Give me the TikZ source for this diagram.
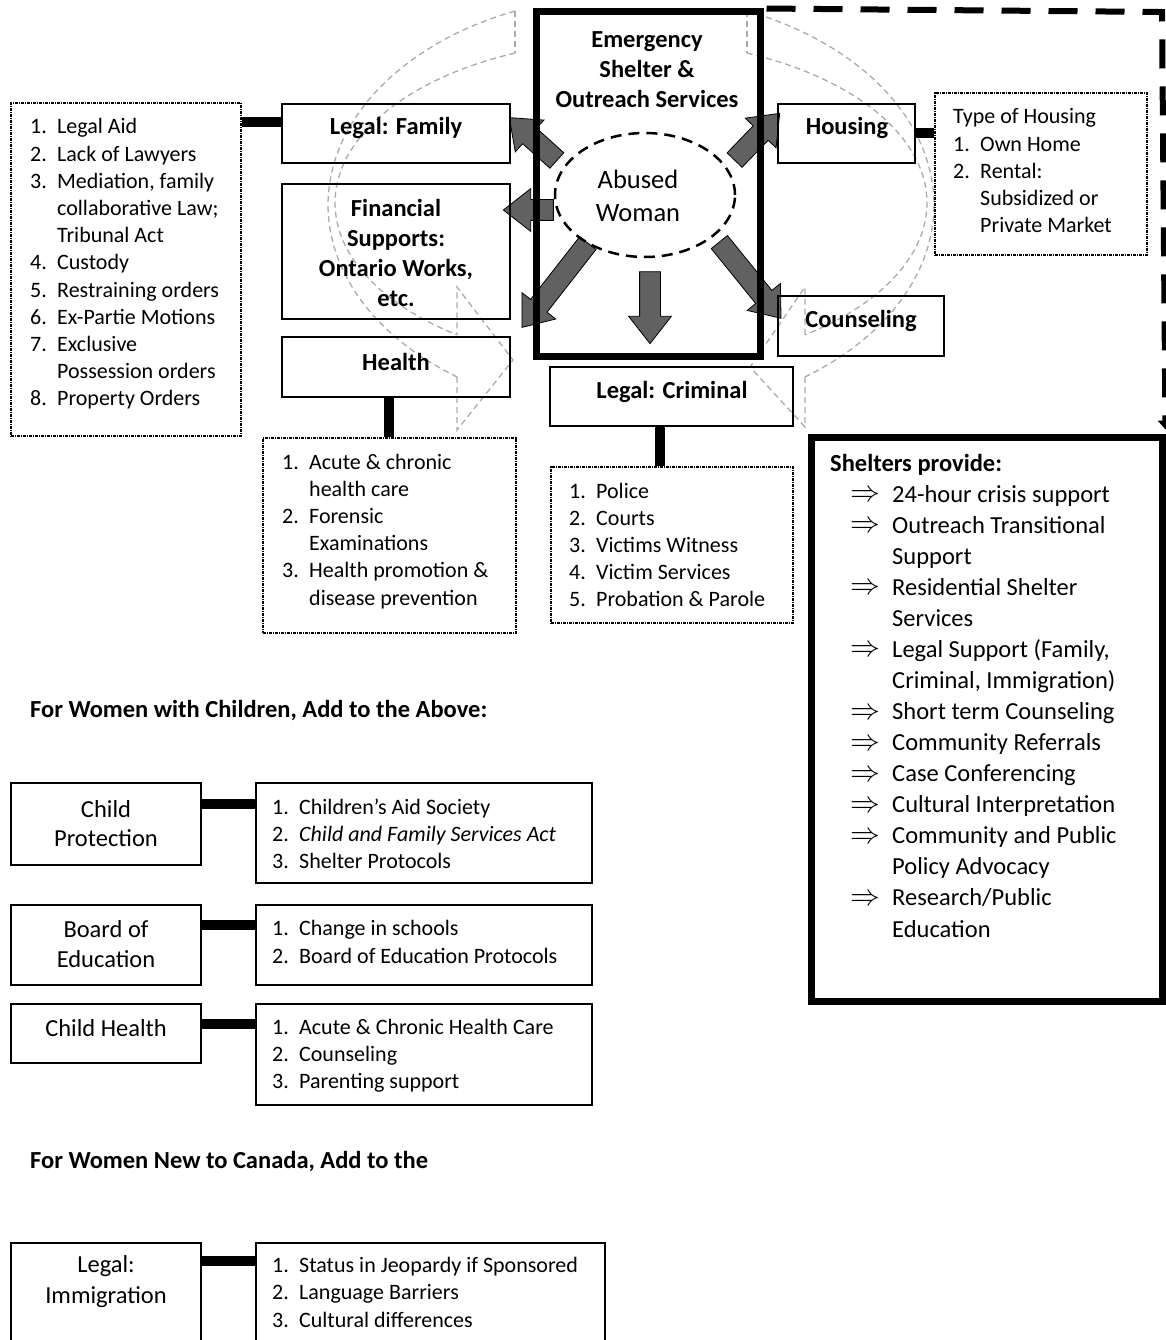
\documentclass[tikz,border=0pt]{standalone}
\usepackage{graphicx}
\usepackage{fontspec}
\setmainfont{Carlito}
\usetikzlibrary{shapes.geometric,shapes.arrows,arrows.meta,fit}
\newcommand\fbig{\fontsize{24.5}{30}\selectfont}
\newcommand\fsm{\fontsize{22}{27.2}\selectfont}
\newcommand\nm[1]{\makebox[27pt][l]{#1}}
\newcommand\ind{\hspace*{27pt}}
\newcommand\sh{\hspace*{20pt}\makebox[42pt][l]{\raisebox{0.5pt}{\scalebox{1.2}{$\Rightarrow$}}}}
\newcommand\shind{\hspace*{62pt}}
\begin{document}
\begin{tikzpicture}[x=1pt,y=-1pt,
 box/.style={draw,line width=1.5pt,inner sep=0pt},
 heavy/.style={draw,line width=7pt,inner sep=0pt},
 dotbox/.style={draw,line width=1.1pt,inner sep=0pt,dash pattern=on 2.6pt off 1.3pt on 0.8pt off 1.3pt},
 bar/.style={line width=10pt},
 hd/.style={font=\fbig\bfseries,align=center,inner sep=0pt},
 nl/.style={font=\fbig,align=center,inner sep=0pt},
 lst/.style={anchor=base west,inner sep=0pt,font=\fsm},
 ghost/.style={draw=black!33,line width=1.3pt,dash pattern=on 6pt off 4pt},
 garrow/.style={single arrow,draw=black,line width=0.8pt,fill=black!62,inner sep=10pt,
   single arrow head extend=11pt,single arrow tip angle=76,single arrow head indent=0pt}
]
\useasboundingbox (0,0) rectangle (1166,1340);
\fill[white] (0,0) rectangle (1166,1340);
\clip (0,0) rectangle (1166,1340);

% ghost circular arrows (faint background)
\draw[ghost] plot[domain=247.5:125,samples=60] ({631+303*cos(\x)},{205+210*sin(\x)});
\draw[ghost] plot[domain=247:126,samples=60] ({631+296*cos(\x)},{203+163*sin(\x)});
\draw[ghost] plot[domain=-67.5:55,samples=60] ({631+303*cos(\x)},{205+210*sin(\x)});
\draw[ghost] plot[domain=-67:54,samples=60] ({631+296*cos(\x)},{203+163*sin(\x)});
\draw[ghost] (515,11) -- (515,53);
\draw[ghost] (747,11) -- (747,53);
\draw[ghost] (457,377) -- (457,430) -- (513,360) -- (457,287) -- (457,335);
\draw[ghost] (805,377) -- (805,427) -- (750,367) -- (805,287) -- (805,335);

% gray block arrows from the woman
\node[garrow,minimum height=64pt,rotate=138] (a1) at (538,143.5) {};
\node[garrow,minimum height=50pt,rotate=180] (a2) at (535,210) {};
\node[garrow,minimum height=107pt,rotate=-128] (a3) at (559,280) {};
\node[garrow,minimum height=72pt,rotate=-90] (a4) at (650,301) {};
\node[garrow,minimum height=98pt,rotate=-51] (a5) at (746,275) {};
\node[garrow,minimum height=65pt,rotate=46] (a6) at (752.5,141.5) {};

% central box and woman
\node[heavy,fit={(536,12) (760,356)}] (es) {};
\node[ellipse,draw,line width=2.5pt,dash pattern=on 11pt off 7pt,minimum width=180pt,minimum height=124pt,inner sep=0pt] (aw) at (645,195) {};
\node[hd] (est) at (647,70) {Emergency\\Shelter \&\\Outreach Services};
\node[nl,font=\fontsize{26.5}{33}\selectfont] (awt) at (638,196) {Abused\\Woman};

% service boxes
\node[box,fit={(282,104) (510,163)}] (lf) {};
\node[box,fit={(282,184) (510,319)}] (fin) {};
\node[box,fit={(282,337) (510,397)}] (hl) {};
\node[box,fit={(550,367) (793,426)}] (cr) {};
\node[box,fit={(778,104) (915,163)}] (ho) {};
\node[box,fit={(778,296) (944,356)}] (co) {};
\node[hd] (lft) at (396,128) {Legal: Family};
\node[hd] (fint) at (396,253) {Financial\\Supports:\\Ontario Works,\\etc.};
\node[hd] (hlt) at (396,362) {Health};
\node[hd] (crt) at (672,392) {Legal: Criminal};
\node[hd] (hot) at (847,128) {Housing};
\node[hd] (cot) at (861,321) {Counseling};

% dotted detail boxes
\node[dotbox,fit={(11,103) (241,436)}] (lfl) {};
\node[dotbox,fit={(263,438) (516,633)}] (hll) {};
\node[dotbox,fit={(551,467) (793,623)}] (crl) {};
\node[dotbox,fit={(935,93) (1147,255)}] (hol) {};

\node[lst] (lflt) at (30,134) {\begin{tabular}[t]{@{}l@{}}
\nm{1.}Legal Aid\\ \nm{2.}Lack of Lawyers\\ \nm{3.}Mediation, family\\ \ind collaborative Law;\\ \ind Tribunal Act\\
\nm{4.}Custody\\ \nm{5.}Restraining orders\\ \nm{6.}Ex-Partie Motions\\ \nm{7.}Exclusive\\ \ind Possession orders\\ \nm{8.}Property Orders
\end{tabular}};
\node[lst] (hllt) at (282,469) {\begin{tabular}[t]{@{}l@{}}
\nm{1.}Acute \& chronic\\ \ind health care\\ \nm{2.}Forensic\\ \ind Examinations\\ \nm{3.}Health promotion \&\\ \ind disease prevention
\end{tabular}};
\node[lst] (crlt) at (569,498) {\begin{tabular}[t]{@{}l@{}}
\nm{1.}Police\\ \nm{2.}Courts\\ \nm{3.}Victims Witness\\ \nm{4.}Victim Services\\ \nm{5.}Probation \& Parole
\end{tabular}};
\node[lst] (holt) at (953,124) {\begin{tabular}[t]{@{}l@{}}
Type of Housing\\ \nm{1.}Own Home\\ \nm{2.}Rental:\\ \ind Subsidized or\\ \ind Private Market
\end{tabular}};

% connector bars
\coordinate (y1) at (0,122);
\coordinate (x1) at (389,0);
\coordinate (x2) at (660,0);
\coordinate (y2) at (0,133);
\draw[bar] (lfl.east |- y1) -- (lf.west |- y1);
\draw[bar] (hl.south -| x1) -- (hll.north -| x1);
\draw[bar] (cr.south -| x2) -- (crl.north -| x2);
\draw[bar] (ho.east |- y2) -- (hol.west |- y2);

% shelters box
\node[heavy,fit={(811,437) (1162,1001)}] (sh) {};
\node[lst,font=\fontsize{24.5}{31.07}\selectfont] (sht) at (830,471) {\begin{tabular}[t]{@{}l@{}}
\textbf{Shelters provide:}\\
\sh 24-hour crisis support\\ \sh Outreach Transitional\\ \shind Support\\ \sh Residential Shelter\\ \shind Services\\
\sh Legal Support (Family,\\ \shind Criminal, Immigration)\\ \sh Short term Counseling\\ \sh Community Referrals\\
\sh Case Conferencing\\ \sh Cultural Interpretation\\ \sh Community and Public\\ \shind Policy Advocacy\\
\sh Research/Public\\ \shind Education
\end{tabular}};

% dashed connector to shelters
\coordinate (dc) at (1162,12);
\draw[line width=6pt,dash pattern=on 29pt off 18pt,dash phase=44pt,shorten >=4pt,-{Triangle[width=15pt,length=9pt]}] (es.north east) -- (dc) -- (sh.north east);

% headings
\node[anchor=base west,inner sep=0pt,font=\fbig\bfseries] (h1) at (30,717) {For Women with Children, Add to the Above:};
\node[anchor=base west,inner sep=0pt,font=\fbig\bfseries] (h2) at (30,1168) {For Women New to Canada, Add to the};

% children section
\node[box,fit={(11,783) (201,865)}] (cp) {};
\node[box,fit={(256,783) (592,883)}] (cpl) {};
\node[box,fit={(11,905) (201,985)}] (be) {};
\node[box,fit={(256,905) (592,985)}] (bel) {};
\node[box,fit={(11,1004) (201,1063)}] (ch) {};
\node[box,fit={(256,1004) (592,1105)}] (chl) {};
\node[box,fit={(11,1243) (201,1360)}] (li) {};
\node[box,fit={(256,1243) (605,1360)}] (lil) {};

\node[nl,font=\fontsize{24.5}{29}\selectfont] (cpt) at (106,823.5) {Child\\Protection};
\node[nl,font=\fontsize{24.5}{30}\selectfont] (bet) at (106,944) {Board of\\Education};
\node[nl] (cht) at (106,1028) {Child Health};
\node[nl,font=\fontsize{24.5}{31}\selectfont] (lit) at (106,1281.5) {Legal:\\Immigration};

\node[lst,font=\fontsize{22}{27}\selectfont] (cplt) at (272,814) {\begin{tabular}[t]{@{}l@{}}
\nm{1.}Children’s Aid Society\\ \nm{2.}\textit{Child and Family Services Act}\\ \nm{3.}Shelter Protocols
\end{tabular}};
\node[lst,font=\fontsize{22}{28}\selectfont] (belt) at (272,935) {\begin{tabular}[t]{@{}l@{}}
\nm{1.}Change in schools\\ \nm{2.}Board of Education Protocols
\end{tabular}};
\node[lst,font=\fontsize{22}{27}\selectfont] (chlt) at (272,1034) {\begin{tabular}[t]{@{}l@{}}
\nm{1.}Acute \& Chronic Health Care\\ \nm{2.}Counseling\\ \nm{3.}Parenting support
\end{tabular}};
\node[lst,font=\fontsize{22}{27.5}\selectfont] (lilt) at (272,1272) {\begin{tabular}[t]{@{}l@{}}
\nm{1.}Status in Jeopardy if Sponsored\\ \nm{2.}Language Barriers\\ \nm{3.}Cultural differences
\end{tabular}};

\coordinate (y3) at (0,804);
\coordinate (y4) at (0,925);
\coordinate (y5) at (0,1023.5);
\coordinate (y6) at (0,1261);
\draw[bar] (cp.east |- y3) -- (cpl.west |- y3);
\draw[bar] (be.east |- y4) -- (bel.west |- y4);
\draw[bar] (ch.east |- y5) -- (chl.west |- y5);
\draw[bar] (li.east |- y6) -- (lil.west |- y6);
\end{tikzpicture}
\end{document}
